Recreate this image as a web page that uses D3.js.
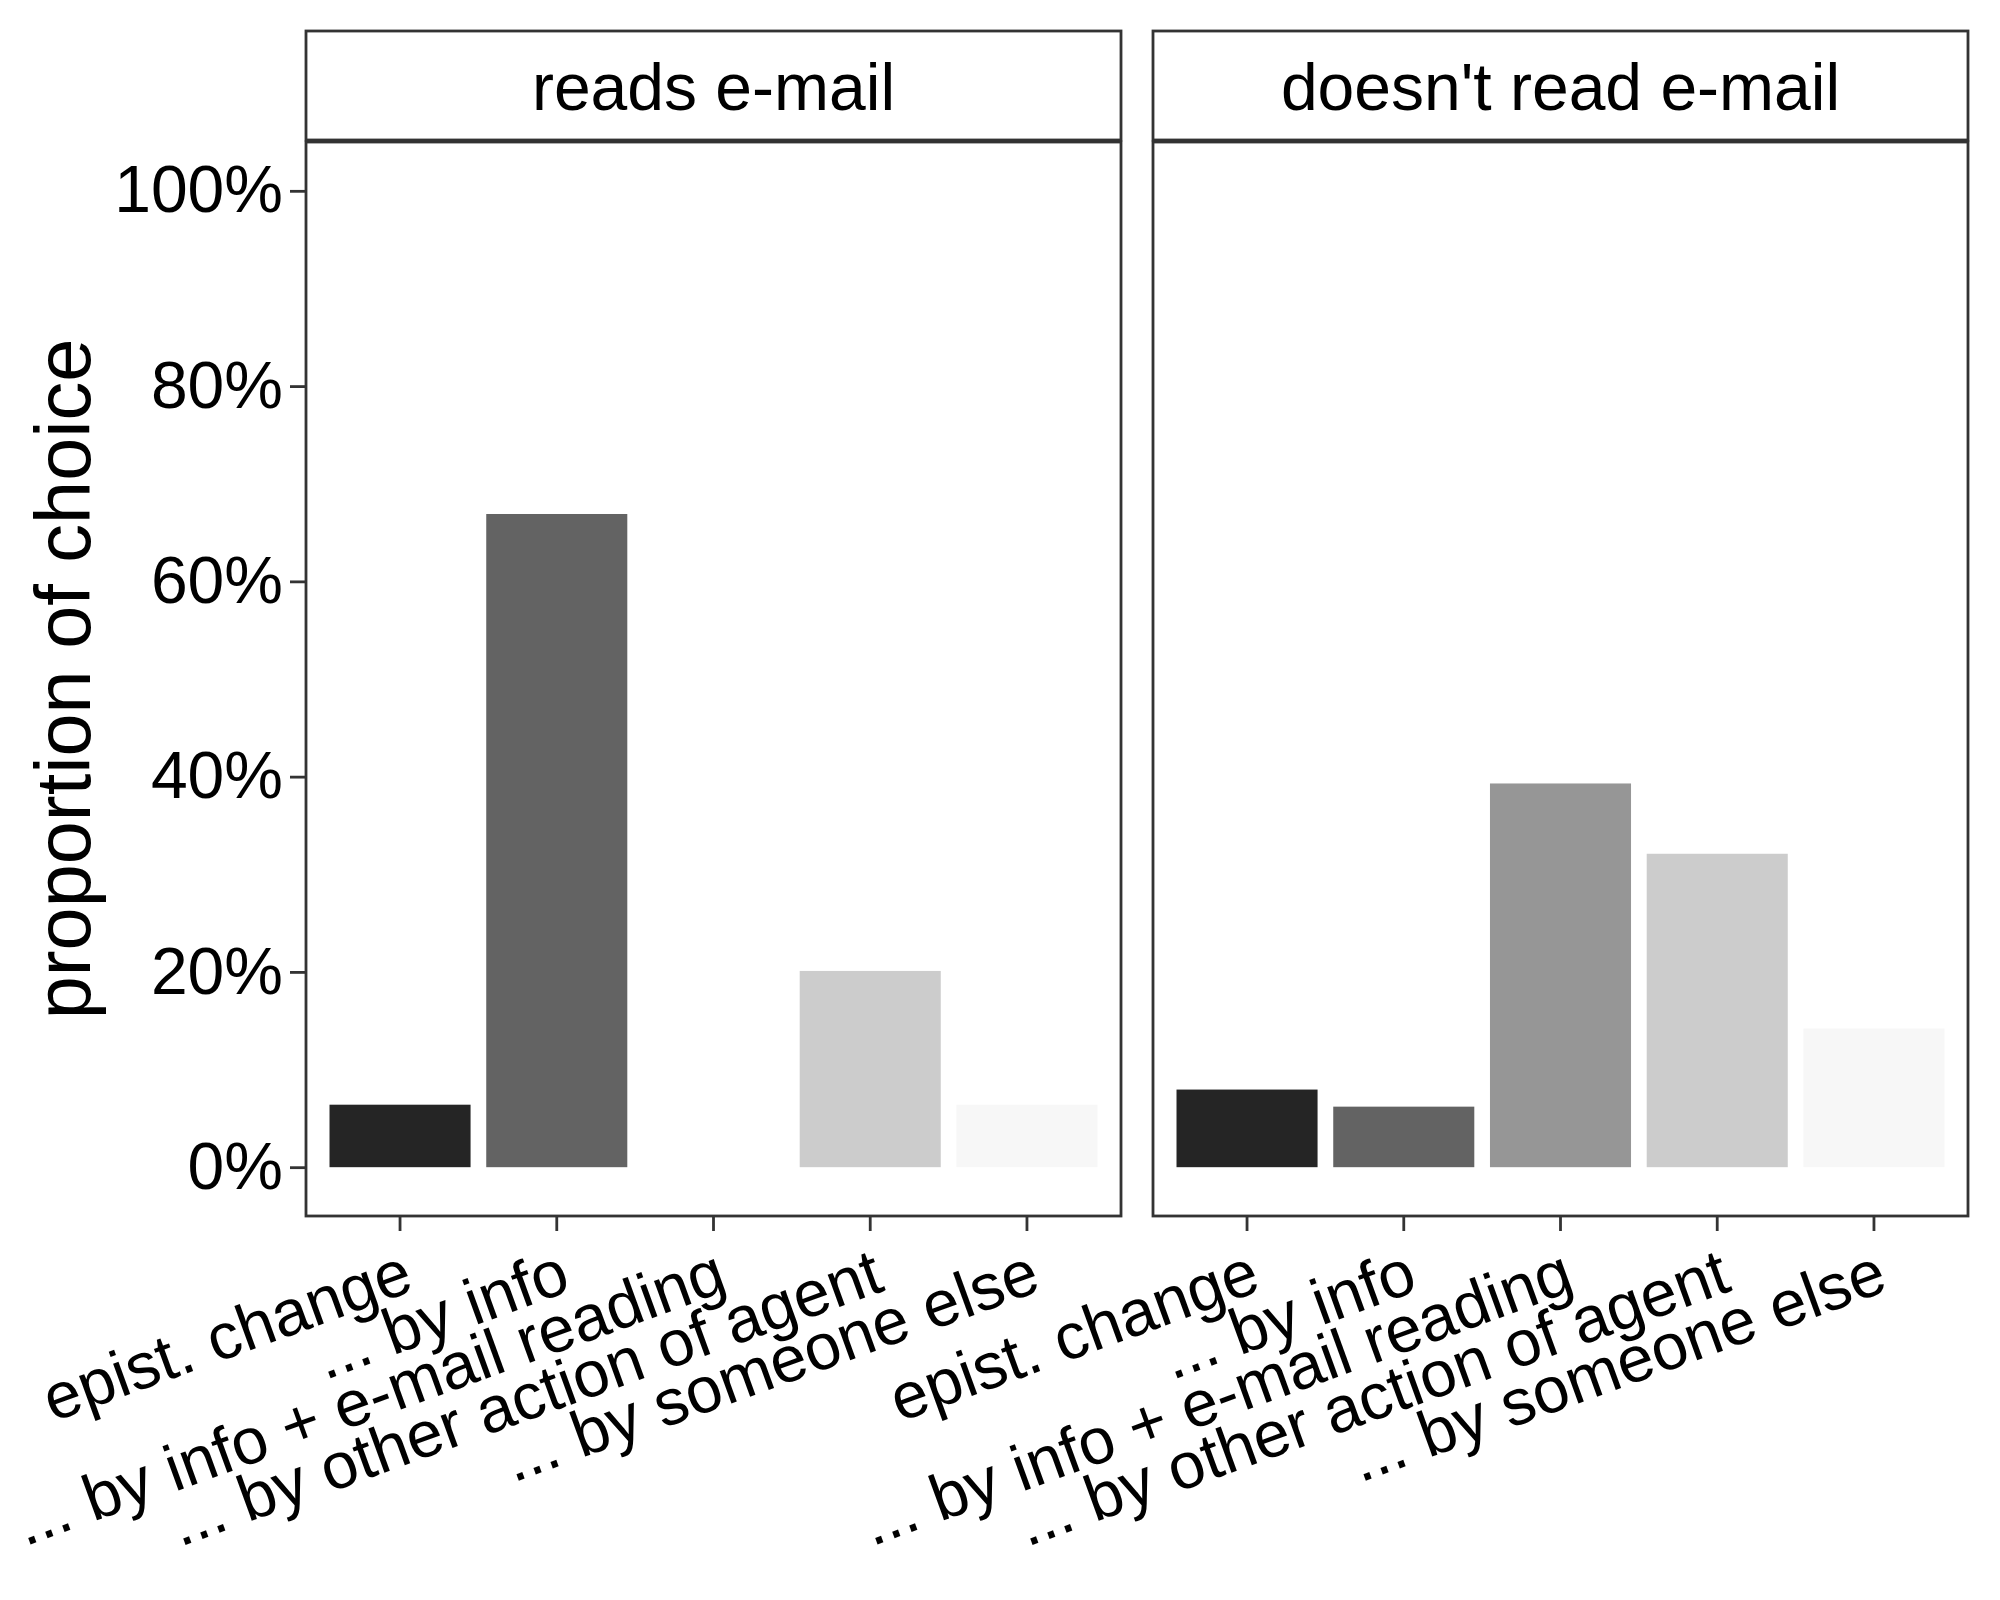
<!DOCTYPE html>
<html>
<head>
<meta charset="utf-8">
<script src="https://cdn.jsdelivr.net/npm/d3@7"></script>
<style>
  body { margin: 0; background: #fff; }
  svg text { font-family: "Liberation Sans", Arial, sans-serif; fill: #000; }
</style>
</head>
<body>
<div id="chart"></div>
<script>
const width = 2000, height = 1600;

// data
const panels = ["reads e-mail", "doesn't read e-mail"];
const categories = [
    "epist. change",
    "... by info",
    "... by info + e-mail reading",
    "... by other action of agent",
    "... by someone else"
];
const readsValues = [0.064, 0.669, 0, 0.201, 0.064];
const notReadsValues = [0.0795, 0.062, 0.393, 0.321, 0.142];
const fillColors = ["#252525", "#636363", "#969696", "#cccccc", "#f7f7f7"];
const yTicks = [0, 0.2, 0.4, 0.6, 0.8, 1];

const seriesByPanel = [readsValues, notReadsValues];

// layout
const stripTop = 31, panelTop = 142, panelBottom = 1216;
const panelX = [[306, 1121], [1153, 1968]];
const border = "#333333";
const lineW = 2.8;

const svg = d3.select("#chart")
    .append("svg")
    .attr("width", width)
    .attr("height", height);

svg.append("rect")
    .attr("width", width)
    .attr("height", height)
    .attr("fill", "#fff");

const y = d3.scaleLinear()
    .domain([-0.05, 1.05])
    .range([panelBottom, panelTop]);

const fill = d3.scaleOrdinal()
    .domain(categories)
    .range(fillColors);

panels.forEach((name, i) => {
    const [x0, x1] = panelX[i];
    const x = d3.scaleBand()
        .domain(categories)
        .range([x0, x1])
        .paddingInner(0.1)
        .paddingOuter(0.15);

    const g = svg.append("g").attr("class", "panel");

    // bars
    const rows = categories.map((c, k) => ({ cat: c, value: seriesByPanel[i][k] }));
    g.selectAll(".bar")
        .data(rows.filter(d => d.value > 0))
        .enter()
        .append("rect")
        .attr("class", "bar")
        .attr("x", d => x(d.cat))
        .attr("width", x.bandwidth())
        .attr("y", d => y(d.value))
        .attr("height", d => y(0) - y(d.value))
        .attr("fill", d => fill(d.cat));

    // panel border
    g.append("rect")
        .attr("x", x0)
        .attr("y", panelTop)
        .attr("width", x1 - x0)
        .attr("height", panelBottom - panelTop)
        .attr("fill", "none")
        .attr("stroke", border)
        .attr("stroke-width", lineW);

    // strip
    g.append("rect")
        .attr("x", x0)
        .attr("y", stripTop)
        .attr("width", x1 - x0)
        .attr("height", panelTop - 2 - stripTop)
        .attr("fill", "#fff")
        .attr("stroke", border)
        .attr("stroke-width", lineW);

    g.append("text")
        .attr("x", (x0 + x1) / 2)
        .attr("y", (stripTop + panelTop) / 2 + 0.36 * 66)
        .attr("text-anchor", "middle")
        .attr("font-size", 66)
        .text(name);

    // x axis with rotated labels
    const xAxis = g.append("g")
        .attr("transform", `translate(0,${panelBottom})`)
        .call(d3.axisBottom(x).tickSize(15).tickSizeOuter(0));
    xAxis.select(".domain").remove();
    xAxis.selectAll(".tick line")
        .attr("stroke", border)
        .attr("stroke-width", lineW);
    xAxis.selectAll(".tick text")
        .attr("x", 0)
        .attr("y", 0)
        .attr("dy", "0.72em")
        .attr("text-anchor", "end")
        .attr("transform", "translate(0,30) rotate(-20)")
        .attr("font-size", 65)
        .attr("fill", "#000");

    // y axis only on the first panel
    if (i === 0) {
        const yAxis = g.append("g")
            .attr("transform", `translate(${x0},0)`)
            .call(d3.axisLeft(y)
                .tickValues(yTicks)
                .tickFormat(d3.format(".0%"))
                .tickSize(16)
                .tickPadding(7));
        yAxis.select(".domain").remove();
        yAxis.selectAll(".tick line")
            .attr("stroke", border)
            .attr("stroke-width", lineW);
        yAxis.selectAll(".tick text")
            .attr("font-size", 66)
            .attr("fill", "#000");
    }
});

// y axis title
svg.append("text")
    .attr("transform", `translate(90,${(panelTop + panelBottom) / 2}) rotate(-90)`)
    .attr("text-anchor", "middle")
    .attr("font-size", 77.5)
    .text("proportion of choice");
</script>
</body>
</html>
